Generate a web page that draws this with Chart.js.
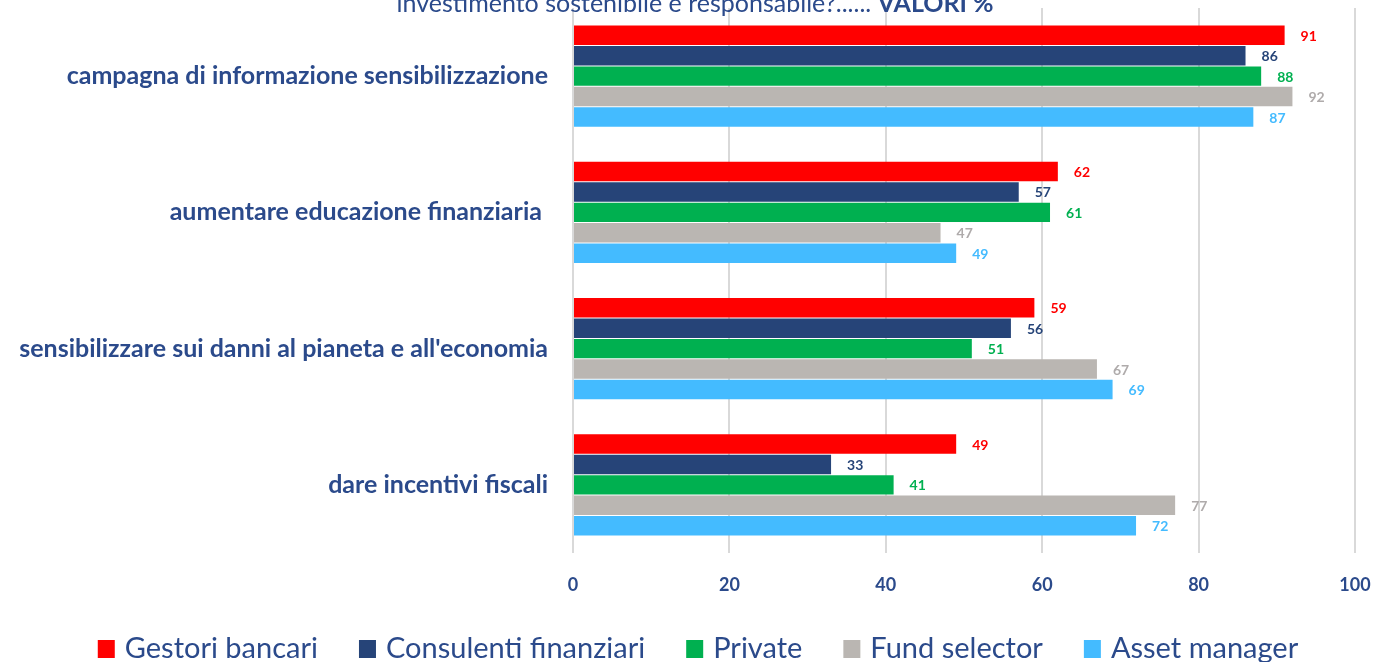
<!DOCTYPE html>
<html>
<head>
<meta charset="utf-8">
<script src="https://cdn.jsdelivr.net/npm/chart.js@4.4.1/dist/chart.umd.min.js"></script>
<style>
  html, body { margin: 0; padding: 0; background: #fff; }
  #wrap { width: 1373px; height: 662px; position: relative; }
</style>
</head>
<body>
<div id="wrap"><canvas id="chart"></canvas></div>
<script>
const categories = [
  'campagna di informazione sensibilizzazione',
  'aumentare educazione finanziaria ',
  "sensibilizzare sui danni al pianeta e all'economia",
  'dare incentivi fiscali'
];
const seriesNames = ['Gestori bancari', 'Consulenti finanziari', 'Private', 'Fund selector', 'Asset manager'];
const gestoriBancari = [91, 62, 59, 49];
const consulentiFinanziari = [86, 57, 56, 33];
const privateBankers = [88, 61, 51, 41];
const fundSelector = [92, 47, 67, 77];
const assetManager = [87, 49, 69, 72];
const xTicks = [0, 20, 40, 60, 80, 100];

const barColors = ['#FF0000', '#264478', '#00B050', '#BAB6B2', '#44BBFF'];
const labelColors = ['#FF0000', '#264478', '#00B050', '#AFABAB', '#44BBFF'];
const navy = '#2B4A8B';
const fontFam = 'Lato, "Noto Sans", sans-serif';

const allSeries = [gestoriBancari, consulentiFinanziari, privateBankers, fundSelector, assetManager];

// value labels at the end of each bar
const valueLabels = {
  id: 'valueLabels',
  afterDatasetsDraw(chart) {
    const ctx = chart.ctx;
    ctx.save();
    ctx.font = 'bold 14px ' + fontFam;
    ctx.textAlign = 'left';
    ctx.textBaseline = 'middle';
    chart.data.datasets.forEach((ds, i) => {
      chart.getDatasetMeta(i).data.forEach((bar, j) => {
        ctx.fillStyle = labelColors[i];
        ctx.fillText(ds.data[j], bar.x + 16, bar.y + 1);
      });
    });
    ctx.restore();
  }
};

// cut-off title at the top + legend row at the bottom
const extras = {
  id: 'extras',
  afterDraw(chart) {
    const ctx = chart.ctx;
    ctx.save();
    const a = 'investimento sostenibile e responsabile?...... ';
    const b = 'VALORI %';
    ctx.textBaseline = 'alphabetic';
    ctx.font = '25px ' + fontFam;
    const wa = ctx.measureText(a).width;
    ctx.font = 'bold 25px ' + fontFam;
    const wb = ctx.measureText(b).width;
    const x = 695 - (wa + wb) / 2;
    ctx.fillStyle = navy;
    ctx.font = '25px ' + fontFam;
    ctx.fillText(a, x, 12);
    ctx.font = 'bold 25px ' + fontFam;
    ctx.fillText(b, x + wa, 12);

    // legend
    ctx.font = '29px ' + fontFam;
    const box = 17, gapText = 10, gapItem = 41;
    const widths = seriesNames.map(n => box + gapText + ctx.measureText(n).width);
    const total = widths.reduce((s, w) => s + w, 0) + gapItem * (seriesNames.length - 1);
    let lx = 698 - total / 2;
    const ly = 649;
    ctx.textBaseline = 'middle';
    seriesNames.forEach((n, i) => {
      ctx.fillStyle = barColors[i];
      ctx.fillRect(lx, ly - 9, box, 18);
      ctx.fillStyle = navy;
      ctx.fillText(n, lx + box + gapText, ly);
      lx += widths[i] + gapItem;
    });
    ctx.restore();
  }
};

new Chart(document.getElementById('chart'), {
  type: 'bar',
  data: {
    labels: categories,
    datasets: seriesNames.map((name, i) => ({
      label: name,
      data: allSeries[i],
      backgroundColor: barColors[i],
      categoryPercentage: 0.75,
      barPercentage: 0.95
    }))
  },
  options: {
    indexAxis: 'y',
    responsive: true,
    maintainAspectRatio: false,
    animation: false,
    layout: { autoPadding: false, padding: { top: 8, right: 18, left: 0, bottom: 59 } },
    scales: {
      x: {
        min: 0,
        max: 100,
        afterBuildTicks(axis) { axis.ticks = xTicks.map(v => ({ value: v })); },
        grid: { color: '#D9D9D9', lineWidth: 2, drawTicks: false },
        border: { display: false },
        ticks: {
          color: navy,
          font: { family: fontFam, size: 18, weight: 'bold' },
          padding: 21
        },
        afterFit(axis) {
          axis.height = 50;
          axis.paddingLeft = 0;
          axis.paddingRight = 0;
        }
      },
      y: {
        grid: { display: false, drawTicks: false },
        border: { display: false },
        ticks: {
          color: navy,
          font: { family: fontFam, size: 25, weight: 'bold' },
          padding: 25
        },
        afterFit(axis) {
          axis.width = 573;
          axis.paddingTop = 0;
          axis.paddingBottom = 0;
        }
      }
    },
    plugins: {
      legend: { display: false },
      tooltip: { enabled: false }
    }
  },
  plugins: [valueLabels, extras]
});
</script>
</body>
</html>
